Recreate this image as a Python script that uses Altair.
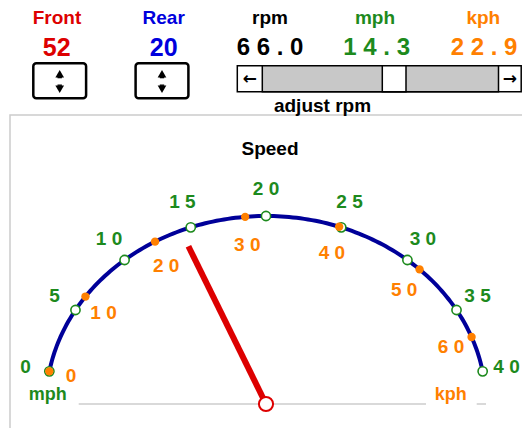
import altair as alt
import pandas as pd

# ---- values shown in the picture ----
front_teeth = 52
rear_teeth = 20
rpm = 66.0
mph = 14.3
kph = 22.9

mph_ticks = [0, 5, 10, 15, 20, 25, 30, 35, 40]
mph_labels = ["0", "5", "1 0", "1 5", "2 0", "2 5", "3 0", "3 5", "4 0"]
kph_ticks = [0, 10, 20, 30, 40, 50, 60]
kph_labels = ["0", "1 0", "2 0", "3 0", "4 0", "5 0", "6 0"]
KPH_PER_MPH = 1.609344

GREEN = "#1d8a1d"
ORANGE = "#ff8000"
RED = "#dd0000"
BLUE = "#0000dd"
NAVY = "#000099"
FONT = "Liberation Sans"

W, H = 514, 420
xs = alt.Scale(domain=[-258 / 220, (W - 258) / 220], nice=False, zero=False)
ys = alt.Scale(domain=[(396 - H) / 188, 396 / 188], nice=False, zero=False)

ANG = "PI*(170-4*datum.m)/180"


def X(f):
    return alt.X(f, type="quantitative", scale=xs, axis=None)


def Y(f):
    return alt.Y(f, type="quantitative", scale=ys, axis=None)


one = alt.Data(values=[{"k": 1}])


def ptext(txt, x, y, color="black", size=19, font=FONT):
    return alt.Chart(one).mark_text(
        font=font, fontWeight="bold", fontSize=size, color=color,
        align="center", baseline="middle"
    ).encode(x=alt.value(x), y=alt.value(y), text=alt.value(txt))


def prect(x, x2, y, y2, fill="white", stroke="black", sw=1.5, cr=0, fo=1):
    return alt.Chart(one).mark_rect(
        fill=fill, fillOpacity=fo, stroke=stroke, strokeWidth=sw, cornerRadius=cr
    ).encode(x=alt.value(x), x2=alt.value(x2), y=alt.value(y), y2=alt.value(y2))


def ppoint(x, y, shape, size=75):
    return alt.Chart(one).mark_point(
        shape=shape, filled=True, color="black", size=size, opacity=1
    ).encode(x=alt.value(x), y=alt.value(y))


def prule(x, x2, y, color="black", sw=1.5):
    return alt.Chart(one).mark_rule(color=color, strokeWidth=sw).encode(
        x=alt.value(x), x2=alt.value(x2), y=alt.value(y))


def spinner(cx):
    return [
        prect(cx - 26.4, cx + 26.4, 55.3, 90.3, sw=2.5, cr=3),
        ppoint(cx, 65.8, "triangle-up"),
        prule(cx - 2.2, cx + 2.2, 69.6, sw=1.4),
        ppoint(cx, 81.2, "triangle-down"),
        prule(cx - 2.2, cx + 2.2, 77.2, sw=1.4),
    ]


# ---- top controls ----
layers = []
layers.append(prect(2, 526, 107, 440, fill="white", stroke="#cccccc", sw=1.5, fo=0))
layers += [ptext("Front", 49, 9.5, RED), ptext(str(front_teeth), 48.7, 40, RED, size=25)]
layers += spinner(51.7)
layers += [ptext("Rear", 155.7, 9.5, BLUE), ptext(str(rear_teeth), 155.7, 40, BLUE, size=25)]
layers += spinner(154)
layers += [
    ptext("rpm", 262, 9.5, "black"),
    ptext(" ".join(f"{rpm:.1f}"), 262, 40, "black", size=24),
    ptext("mph", 367, 9.5, GREEN),
    ptext(" ".join(f"{mph:.1f}"), 368.7, 40, GREEN, size=24),
    ptext("kph", 475.3, 9.5, ORANGE),
    ptext(" ".join(f"{kph:.1f}"), 476, 40, ORANGE, size=24),
    # scrollbar
    prect(229.3, 513.2, 57.7, 83.7, fill="white", sw=1.5),
    prect(254.3, 490.5, 57.7, 83.7, fill="#c8c8c8", sw=1.5),
    prect(374.3, 398, 57.7, 83.7, fill="white", sw=1.5),
    ptext("\u2190", 241.8, 71, "black", size=17, font="DejaVu Sans"),
    ptext("\u2192", 501.8, 71, "black", size=17, font="DejaVu Sans"),
    ptext("adjust rpm", 314.5, 97.5, "black"),
    ptext("Speed", 262, 140.5, "black"),
]

# ---- gauge ----
layers += [
    prule(70.7, 418, 396, color="#cccccc"),
    prule(468.7, 478, 396, color="#cccccc"),
    ptext("mph", 39.7, 387, GREEN, size=18),
    ptext("kph", 442.7, 387, ORANGE, size=18),
]

arc = alt.Chart(alt.sequence(0, 40.001, 0.25, as_="m")).transform_calculate(
    a=ANG, x="cos(datum.a)", y="sin(datum.a)"
).mark_line(color=NAVY, strokeWidth=4).encode(x=X("x"), y=Y("y"), order="m:Q")

mph_df = pd.DataFrame({"m": mph_ticks, "label": mph_labels})
kph_df = pd.DataFrame({"k": kph_ticks, "label": kph_labels})

mph_base = alt.Chart(mph_df).transform_calculate(
    a=ANG, x="cos(datum.a)", y="sin(datum.a)",
    lx="1.11*cos(datum.a)", ly="1.145*sin(datum.a)")
mph_pts = mph_base.mark_point(
    shape="circle", filled=True, fill="white", stroke=GREEN, strokeWidth=1.6,
    size=85, opacity=1).encode(x=X("x"), y=Y("y"))
mph_txt = mph_base.mark_text(
    font=FONT, fontWeight="bold", fontSize=19, color=GREEN,
    align="center", baseline="middle").encode(x=X("lx"), y=Y("ly"), text="label:N")

kph_base = alt.Chart(kph_df).transform_calculate(
    m=f"datum.k/{KPH_PER_MPH}").transform_calculate(
    a=ANG, x="cos(datum.a)", y="sin(datum.a)",
    lx="0.9*cos(datum.a)", ly="0.85*sin(datum.a)")
kph_pts = kph_base.mark_circle(color=ORANGE, size=70, opacity=1).encode(
    x=X("x"), y=Y("y"))
kph_txt = kph_base.mark_text(
    font=FONT, fontWeight="bold", fontSize=19, color=ORANGE,
    align="center", baseline="middle").encode(x=X("lx"), y=Y("ly"), text="label:N")

needle_df = pd.DataFrame({"m": [mph]})
needle_base = alt.Chart(needle_df).transform_calculate(
    a=ANG, x0="0", y0="0",
    nx="0.91*cos(datum.a)", ny="0.91*sin(datum.a)")
needle = needle_base.mark_rule(color=RED, strokeWidth=6, strokeCap="butt").encode(
    x=X("x0"), y=Y("y0"), x2="nx:Q", y2="ny:Q")
pivot = needle_base.mark_point(
    shape="circle", filled=True, fill="white", stroke=RED, strokeWidth=2,
    size=200, opacity=1).encode(x=X("x0"), y=Y("y0"))

layers += [arc, mph_pts, kph_pts, mph_txt, kph_txt, needle, pivot]

chart = alt.layer(*layers).properties(
    width=W, height=H, padding=0, autosize="none"
).configure_view(stroke=None)

chart.save("out.html", embed_options={"renderer": "svg", "actions": False})
